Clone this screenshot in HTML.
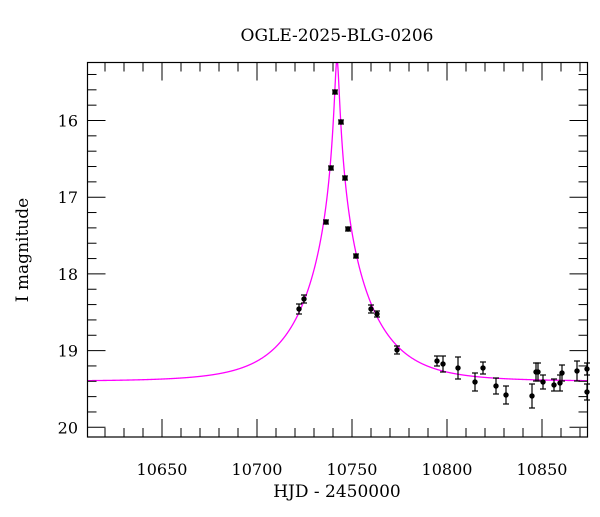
<!DOCTYPE html>
<html><head><meta charset="utf-8"><style>
body{margin:0;background:#fff}
svg text{font-family:"DejaVu Serif","Liberation Serif",serif;fill:#000}
</style></head><body>
<svg id="s" width="600" height="512" xmlns="http://www.w3.org/2000/svg">
<text x="337" y="41" font-size="17" text-anchor="middle">OGLE-2025-BLG-0206</text>
<text x="337" y="497" font-size="17" text-anchor="middle">HJD - 2450000</text>
<text x="0" y="0" font-size="17" text-anchor="middle" transform="translate(28,250) rotate(-90)">I magnitude</text>
</svg>
<script>
var s=document.getElementById('s'),ns='http://www.w3.org/2000/svg';
function el(t,a){var e=document.createElementNS(ns,t);for(var k in a)e.setAttribute(k,a[k]);s.appendChild(e);return e;}
var L=87.5,R=587.5,T=62.5,B=437;
function X(t){return 352+(t-10750)*1.9;}
function Y(m){return 120.5+(m-16)*76.7;}
var d='',t0=10742.1,tE=30,u0=0.036,fs=1.74,base=19.40;
for(var t=10610.5;t<=10874;t+=0.1){var dt=(t-t0)/tE,u=Math.sqrt(u0*u0+dt*dt),A=(u*u+2)/(u*Math.sqrt(u*u+4)),F=1+fs*(A-1),m=base-2.5*Math.log10(F);
var y=Y(m);if(y<T)y=T-1;d+=(d?'L':'M')+X(t).toFixed(2)+' '+y.toFixed(2);}
var cp=el('clipPath',{id:'c'});var r=document.createElementNS(ns,'rect');r.setAttribute('x',L);r.setAttribute('y',T);r.setAttribute('width',R-L);r.setAttribute('height',B-T);cp.appendChild(r);
el('path',{d:d,fill:'none',stroke:'#ff00ff','stroke-width':1.3,'clip-path':'url(#c)'});
el('rect',{x:L,y:T,width:R-L,height:B-T,fill:'none',stroke:'#000','stroke-width':1.2});
for(var t=10620;t<=10870;t+=10){var x=X(t),maj=t%50==0,l=maj?18:9;
el('line',{x1:x,y1:B,x2:x,y2:B-l,stroke:'#000','stroke-width':1});el('line',{x1:x,y1:T,x2:x,y2:T+l,stroke:'#000','stroke-width':1});
if(maj){var tx=el('text',{x:x,y:475,'font-size':16,'text-anchor':'middle'});tx.textContent=t;}}
for(var i=0;i<=26;i++){var m=15.2+i*0.2;m=Math.round(m*10)/10;var y=Y(m);if(y<T||y>B)continue;var maj=Math.abs(m-Math.round(m))<0.01,l=maj?18:9;
el('line',{x1:L,y1:y,x2:L+l,y2:y,stroke:'#000','stroke-width':1});el('line',{x1:R,y1:y,x2:R-l,y2:y,stroke:'#000','stroke-width':1});
if(maj){var tx=el('text',{x:78,y:y+6,'font-size':16,'text-anchor':'end'});tx.textContent=Math.round(m);}}
var P=[[335,92,2],[341,122,2],[331,168,2],[345,178,2],[326,222,2],[348,229,2],[356,256,2],[299,309,5],[304,299,4],[371,309,4],[377,314,3],[397,350,4],
[437,361,5],[443,364,8],[458,368,11],[475,382,9],[483,368,6],[496,386,8],[506,395,9],[532,396,12],[536,372,9],[538,372,9],[543,382,7],[554,385,6],[560,383,8],[562,373,8],[577,371,10],[587,392,8],[587,369,6]];
P.forEach(function(p){var x=p[0],y=p[1],e=p[2];
el('line',{x1:x,y1:y-e,x2:x,y2:y+e,stroke:'#000','stroke-width':1.2});
el('line',{x1:x-3,y1:y-e,x2:x+3,y2:y-e,stroke:'#000','stroke-width':1.2});
el('line',{x1:x-3,y1:y+e,x2:x+3,y2:y+e,stroke:'#000','stroke-width':1.2});
el('circle',{cx:x,cy:y,r:2.7,fill:'#000'});});
</script>
</body></html>
